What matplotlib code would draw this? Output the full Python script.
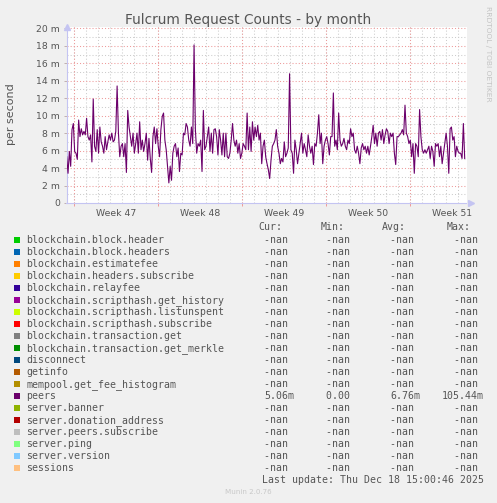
import matplotlib
matplotlib.use('Agg')
import matplotlib.pyplot as plt
import matplotlib.dates as mdates
from matplotlib.patches import Rectangle
import numpy as np
import datetime as dt

# ---------------- data ----------------
title = "Fulcrum Request Counts - by month"
ylabel = "per second"

# peers (milli-requests per second), oldest -> newest
peers = [
    5.3, 3.4, 5.9, 4.2, 8.4, 9.1, 5.9, 5.7, 5.0, 9.5,
    7.6, 8.5, 7.8, 8.2, 7.8, 9.7, 7.6, 7.2, 7.8, 4.7,
    11.9, 6.5, 5.9, 8.4, 5.7, 8.7, 7.0, 6.5, 5.7, 7.6,
    6.1, 7.0, 7.8, 7.2, 8.0, 7.0, 7.2, 8.2, 13.4, 8.0,
    5.3, 6.5, 6.8, 5.3, 6.8, 3.5, 10.6, 8.7, 7.6, 6.5,
    8.0, 5.7, 6.8, 8.0, 5.7, 9.3, 6.1, 7.2, 5.9, 6.8,
    8.0, 4.9, 7.4, 5.1, 3.5, 7.6, 8.7, 6.8, 8.5, 6.5,
    5.3, 8.4, 9.9, 10.3, 7.2, 6.1, 4.2, 2.3, 4.2, 2.6,
    5.7, 6.5, 6.8, 5.3, 6.3, 3.6, 5.7, 5.5, 8.0, 7.8,
    9.1, 8.7, 7.2, 6.5, 8.7, 6.8, 18.1, 8.4, 5.7, 6.8,
    6.5, 7.2, 3.6, 10.6, 6.1, 6.5, 7.6, 8.7, 5.9, 8.0,
    5.7, 8.4, 8.5, 7.6, 5.5, 8.4, 7.2, 5.5, 8.0, 5.3,
    8.0, 5.3, 5.1, 5.7, 7.2, 9.1, 7.2, 6.5, 7.2, 5.7,
    6.8, 5.1, 5.7, 6.8, 6.5, 6.1, 10.3, 6.1,
    8.7, 5.9, 9.3, 7.2, 8.7, 7.6, 8.9, 7.2, 8.0, 4.5,
    6.5, 7.2, 5.3, 4.5, 3.8, 2.8, 4.9, 6.5, 6.8, 7.2,
    8.4, 6.5, 5.7, 4.5, 5.1, 4.7, 7.0, 5.3, 5.7, 6.3,
    14.8, 6.1, 5.7, 3.4, 7.2, 6.1, 4.5, 5.7, 6.8, 8.0,
    5.7, 6.8, 6.1, 5.3, 7.8, 6.5, 5.7, 6.5, 4.4, 6.8,
    6.5, 8.0, 10.1, 6.8, 8.0, 4.5, 6.5, 7.2, 7.6, 6.8,
    5.5, 7.6, 7.6, 12.6, 6.5, 7.2, 6.1, 10.3, 7.2, 6.5,
    6.8, 7.4, 6.5, 6.1, 7.2, 6.8, 8.5, 7.6, 8.0, 6.1,
    5.7, 6.5, 5.7, 4.5, 6.3, 6.8, 6.1, 6.5, 5.7, 6.5,
    5.5, 6.5, 7.6, 8.9, 6.8, 8.0, 6.5, 8.0, 8.2, 7.2,
    8.4, 6.8, 7.8, 8.5, 8.2, 6.8, 8.0, 7.6, 8.0, 5.7,
    4.4, 7.6, 7.6, 7.8, 8.0, 8.4, 7.8, 11.2, 8.0, 7.6,
    6.8, 7.2, 5.3, 6.8, 3.4, 6.8, 6.5, 5.3, 10.7, 7.6,
    6.1, 5.7, 6.1, 5.7, 6.1, 6.5, 5.1, 6.5, 5.9, 4.2,
    6.8, 6.5, 6.8, 5.3, 6.5, 4.5, 5.7, 6.8, 8.0, 6.5,
    3.4, 8.5, 8.7, 7.2, 7.6, 5.3, 6.5, 5.9, 5.7, 5.7,
    5.1, 9.1, 5.1,
]

y_ticks = [0, 2, 4, 6, 8, 10, 12, 14, 16, 18, 20]
y_tick_labels = ["0", "2 m", "4 m", "6 m", "8 m", "10 m", "12 m", "14 m",
                 "16 m", "18 m", "20 m"]

legend_labels = [
    "blockchain.block.header", "blockchain.block.headers", "blockchain.estimatefee",
    "blockchain.headers.subscribe", "blockchain.relayfee",
    "blockchain.scripthash.get_history", "blockchain.scripthash.listunspent",
    "blockchain.scripthash.subscribe", "blockchain.transaction.get",
    "blockchain.transaction.get_merkle", "disconnect", "getinfo",
    "mempool.get_fee_histogram", "peers", "server.banner",
    "server.donation_address", "server.peers.subscribe", "server.ping",
    "server.version", "sessions",
]
legend_colors = [
    "#00CC00", "#0066B3", "#FF8000", "#FFCC00", "#330099", "#990099", "#CCFF00",
    "#FF0000", "#808080", "#008F00", "#00487D", "#B35A00", "#B38F00", "#6B006B",
    "#8FB300", "#B30000", "#BEBEBE", "#80FF80", "#80C9FF", "#FFC080",
]
stat_cur = ["-nan"] * 13 + ["5.06m"] + ["-nan"] * 6
stat_min = ["-nan"] * 13 + ["0.00"] + ["-nan"] * 6
stat_avg = ["-nan"] * 13 + ["6.76m"] + ["-nan"] * 6
stat_max = ["-nan"] * 13 + ["105.44m"] + ["-nan"] * 6
stat_headers = ["Cur:", "Min:", "Avg:", "Max:"]
last_update = "Last update: Thu Dec 18 15:00:46 2025"

# ---------------- layout ----------------
W, H = 497, 503
BG = "#F0F0F0"
TXT = "#555555"
fig = plt.figure(figsize=(W / 100, H / 100), dpi=100, facecolor=BG)


def fx(px):
    return px / W


def fy(py):
    return 1 - py / H


ax = fig.add_axes([fx(66.5), fy(203), 400 / W, 176 / H])
ax.set_facecolor("white")

start = dt.datetime(2025, 11, 16, 8)
end = start + dt.timedelta(hours=800)
times = [start + dt.timedelta(hours=float(h))
         for h in np.linspace(0.4, 796.4, len(peers))]

ax.set_xlim(start, end)
ax.set_ylim(0, 20.15)

# grid
gray = "#CCCCCC"
red = "#EE9A9A"
dots = (0, (1, 2))
for v in range(1, 20, 2):
    ax.axhline(v, color=gray, lw=0.75, ls=dots, zorder=1)
for v in y_ticks[1:]:
    ax.axhline(v, color=red, lw=0.75, ls=dots, zorder=1.5)

day_loc = mdates.DayLocator()
mon_loc = mdates.WeekdayLocator(byweekday=mdates.MO)
days = [mdates.num2date(d) for d in day_loc.tick_values(start, end)]
mondays = [mdates.num2date(d) for d in mon_loc.tick_values(start, end)]
start_n, end_n = mdates.date2num(start), mdates.date2num(end)
for d in days:
    n = mdates.date2num(d)
    if start_n < n < end_n:
        ax.axvline(d, color=gray, lw=0.75, ls=dots, zorder=1)
mon_in = [m for m in mondays if start_n < mdates.date2num(m) < end_n]
for m in mon_in:
    ax.axvline(m, color=red, lw=0.75, ls=dots, zorder=1.5)

# data line
ax.plot(times, peers, color="#6B006B", lw=0.8, zorder=3)

# spines
axis_col = "#C4C4F2"
for s in ("top", "right"):
    ax.spines[s].set_visible(False)
for s in ("left", "bottom"):
    ax.spines[s].set_color(axis_col)
    ax.spines[s].set_linewidth(0.8)
ax.plot([0], [1.0], marker="^", ms=4.5, color=axis_col, transform=ax.transAxes,
        clip_on=False, zorder=5)
ax.plot([1.01], [0], marker=">", ms=4.5, color=axis_col, transform=ax.transAxes,
        clip_on=False, zorder=5)

# y ticks
ax.set_yticks(y_ticks)
ax.set_yticklabels(y_tick_labels)
ax.tick_params(axis="y", length=2.3, width=0.7, color="#C0B0B0", pad=2.5,
               labelsize=6.7, labelcolor=TXT)

# x ticks: week labels at mid-week
mids = [m + dt.timedelta(days=3.5) for m in mondays]
mids = [m for m in mids if start_n < mdates.date2num(m) < end_n]
ax.set_xticks(mids)
ax.set_xticklabels(["Week %d" % m.isocalendar()[1] for m in mids])
ax.tick_params(axis="x", length=0, pad=4.5, labelsize=6.7, labelcolor=TXT)

sec = ax.secondary_xaxis("bottom")
sec.set_xticks(mon_in)
sec.tick_params(axis="x", length=2.3, width=0.7, color=red, labelbottom=False)
sec.spines["bottom"].set_visible(False)

# texts
fig.text(fx(248), fy(24), title, ha="center", va="baseline", fontsize=9.8, color=TXT)
fig.text(fx(11), fy(114), ylabel, ha="center", va="center", rotation=90,
         fontsize=8, color=TXT)
fig.text(fx(488), fy(53.5), "RRDTOOL / TOBI OETIKER", ha="center", va="center",
         rotation=270, fontsize=5.4, color="#C4C4C4")

mono = "DejaVu Sans Mono"
fs = 7.1
hdr_x = [258.3, 320.7, 381.7, 446.7]
for hx, h in zip(hdr_x, stat_headers):
    fig.text(fx(hx), fy(227), h, ha="left", va="center", family=mono,
             fontsize=fs, color=TXT)

col_right = [294.5, 355.5, 420.5, 483.5]
for i, lab in enumerate(legend_labels):
    yc = 240.3 + 12 * i
    fig.add_artist(Rectangle((fx(14), fy(yc + 3)), 6 / W, 6 / H,
                             transform=fig.transFigure, color=legend_colors[i],
                             lw=0))
    fig.text(fx(26.5), fy(yc), lab, ha="left", va="center", family=mono,
             fontsize=fs, color=TXT)
    for cx, col in zip(col_right, (stat_cur, stat_min, stat_avg, stat_max)):
        s = col[i]
        if not s[-1].isalpha() or s.endswith("nan"):
            s = s + " "
        fig.text(fx(cx), fy(yc), s, ha="right", va="center", family=mono,
                 fontsize=fs, color=TXT)

fig.text(fx(483.5), fy(480), last_update, ha="right", va="center", family=mono,
         fontsize=fs, color=TXT)
fig.text(fx(248), fy(492), "Munin 2.0.76", ha="center", va="center",
         fontsize=5.1, color="#C8C8C8")

fig.savefig("out.png", dpi=100, facecolor=BG)
